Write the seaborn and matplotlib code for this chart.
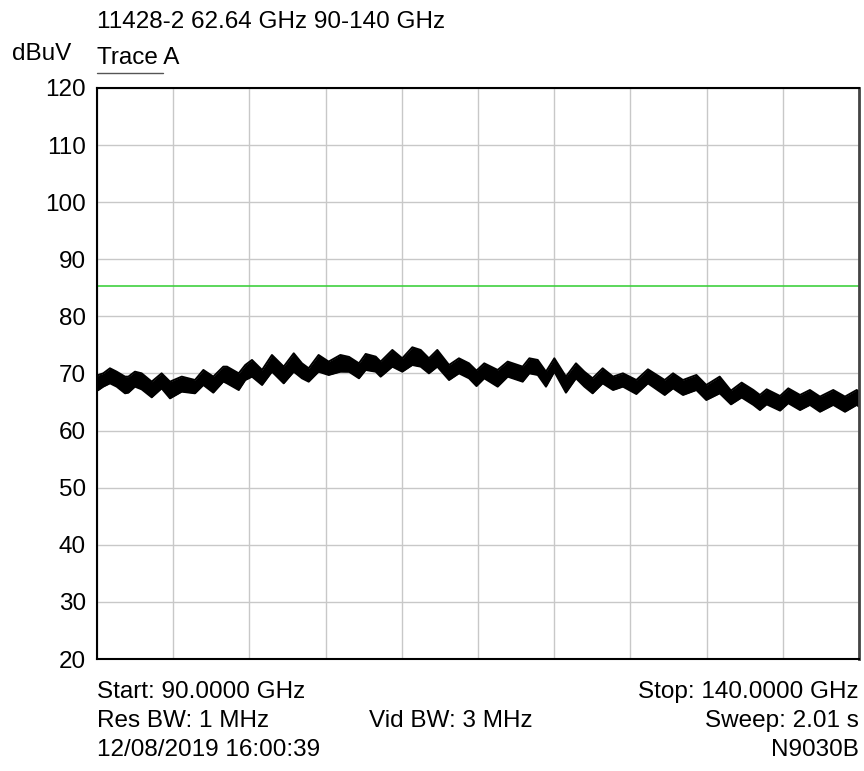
import numpy as np
import pandas as pd
import matplotlib
matplotlib.use("Agg")
import matplotlib.pyplot as plt
from matplotlib.lines import Line2D
import seaborn as sns

# Trace A envelope (GHz, dBuV)
freq_ghz = [90.0, 90.09, 90.41, 90.85, 91.29, 91.84, 92.06, 92.49, 92.93, 93.59,
            94.24, 94.79, 95.56, 96.43, 96.98, 97.63, 98.29, 98.53, 99.30, 99.73,
            100.17, 100.83, 101.48, 102.25, 102.91, 103.45, 103.89, 104.54, 105.20, 105.97,
            106.54, 107.19, 107.63, 108.29, 108.61, 109.38, 110.03, 110.69, 111.24, 111.78,
            112.33, 113.10, 113.75, 114.41, 114.90, 115.41, 116.29, 116.95, 117.93, 118.37,
            118.92, 119.46, 120.01, 120.77, 121.43, 121.98, 122.52, 123.18, 123.86, 124.51,
            125.39, 126.15, 127.25, 127.80, 128.45, 129.33, 129.98, 130.86, 131.60, 132.30,
            133.07, 133.50, 133.94, 134.82, 135.36, 136.13, 136.78, 137.44, 138.31, 139.08,
            139.85, 140.0]
trace_top = [69.5, 69.74, 70.03, 70.91, 70.32, 69.45, 69.45, 70.32, 70.03, 68.57,
             70.03, 68.57, 69.45, 68.86, 70.62, 69.45, 71.2, 71.20, 70.03, 71.49,
             72.37, 70.62, 73.24, 71.20, 73.54, 71.78, 70.91, 73.24, 72.08, 73.24,
             72.9, 71.78, 73.42, 72.95, 72.08, 74.12, 72.66, 74.59, 74.12, 72.66,
             74.12, 71.49, 72.66, 71.78, 70.5, 71.78, 70.62, 72.08, 71.20, 72.66,
             72.37, 70.32, 72.66, 69.45, 71.78, 70.32, 69.16, 70.91, 69.45, 70.03,
             68.86, 70.73, 68.86, 70.03, 68.86, 69.74, 67.99, 69.45, 67.0, 68.40,
             67.11, 66.24, 67.23, 66.06, 67.40, 66.24, 67.11, 65.95, 67.11, 65.95,
             67.11, 66.8]
trace_bottom = [67.0, 67.11, 67.70, 68.28, 67.70, 66.53, 66.65, 67.70, 67.23, 65.83,
                67.40, 65.65, 66.82, 66.53, 67.99, 66.65, 68.6, 68.28, 67.11, 68.86,
                69.45, 67.99, 70.32, 68.28, 70.32, 69.16, 68.57, 70.32, 69.74, 70.32,
                70.3, 69.16, 70.62, 70.32, 69.45, 71.20, 70.32, 71.49, 71.20, 70.03,
                71.20, 68.86, 70.03, 69.16, 67.8, 69.16, 67.70, 69.45, 68.57, 70.03,
                69.74, 67.70, 70.32, 66.65, 69.16, 67.70, 66.53, 68.28, 67.11, 67.70,
                66.41, 68.28, 66.24, 67.40, 66.24, 67.11, 65.36, 66.53, 64.6, 65.8,
                64.5, 63.6, 64.6, 63.5, 64.8, 63.6, 64.5, 63.3, 64.5, 63.3,
                64.5, 64.2]
limit_dbuv = 85.4
y_ticks = [20, 30, 40, 50, 60, 70, 80, 90, 100, 110, 120]

df = pd.DataFrame({"freq": freq_ghz, "top": trace_top, "bottom": trace_bottom})

sns.set_theme(style="white")
plt.rcParams['font.family'] = ['Liberation Sans', 'DejaVu Sans']

W, H = 864, 771
FS = 17.5
fig = plt.figure(figsize=(W / 100, H / 100), dpi=100)
ax = fig.add_axes([97 / W, 1 - 659 / H, (859 - 97) / W, (659 - 88) / H])

ax.fill_between(df["freq"], df["bottom"], df["top"], color="black", lw=0)
sns.lineplot(data=df, x="freq", y="top", ax=ax, color="black", lw=1.4)
sns.lineplot(data=df, x="freq", y="bottom", ax=ax, color="black", lw=1.4)
ax.axhline(limit_dbuv, color="#3fd13f", lw=1.2)

ax.set_xlim(90, 140)
ax.set_ylim(20, 120)
ax.set_xticks(np.linspace(90, 140, 11))
ax.set_xticklabels([])
ax.set_yticks(y_ticks)
ax.set_yticklabels([str(t) for t in y_ticks])
ax.tick_params(length=0, labelsize=FS, pad=8, colors="black")
ax.set_xlabel("")
ax.set_ylabel("")
ax.grid(True, color="#c8c8c8", lw=1)
ax.set_axisbelow(True)
for side in ["left", "top", "bottom"]:
    ax.spines[side].set_color("black")
    ax.spines[side].set_linewidth(1.5)
ax.spines["right"].set_color("#444444")
ax.spines["right"].set_linewidth(2)


def ftext(x, y, s, ha="left"):
    fig.text(x / W, 1 - y / H, s, ha=ha, va="baseline", fontsize=FS, color="black")


ftext(97, 28, "11428-2 62.64 GHz 90-140 GHz")
ftext(12, 60, "dBuV")
ftext(97, 64, "Trace A")
fig.add_artist(Line2D([97 / W, 163 / W], [1 - 73 / H, 1 - 73 / H], color="#555555", lw=1))

ftext(97, 698, "Start: 90.0000 GHz")
ftext(859, 698, "Stop: 140.0000 GHz", ha="right")
ftext(97, 727, "Res BW: 1 MHz")
ftext(369, 727, "Vid BW: 3 MHz")
ftext(859, 727, "Sweep: 2.01 s", ha="right")
ftext(97, 756, "12/08/2019 16:00:39")
ftext(859, 756, "N9030B", ha="right")

fig.savefig("out.png", dpi=100)
